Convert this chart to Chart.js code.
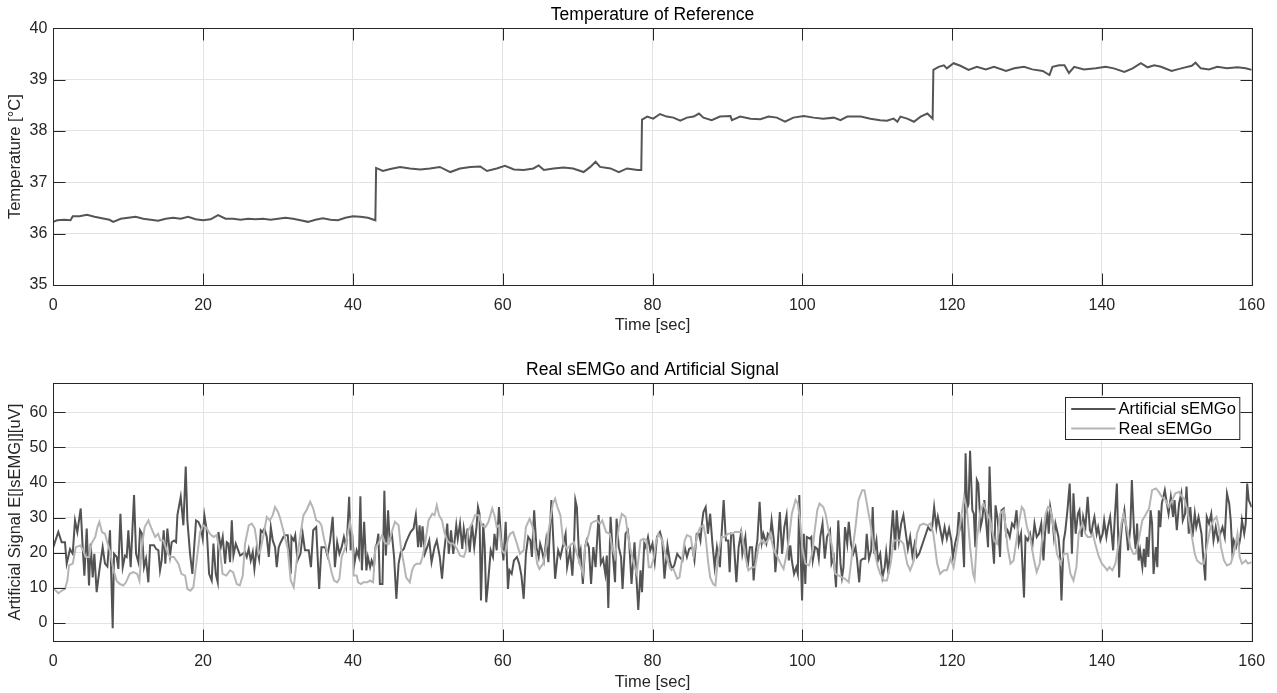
<!DOCTYPE html>
<html><head><meta charset="utf-8">
<script src="https://cdn.jsdelivr.net/npm/chart.js@4/dist/chart.umd.min.js"></script>
<style>
html,body{margin:0;padding:0;background:#fff;}
#wrap{position:relative;width:1277px;height:693px;overflow:hidden;background:#fff;}
canvas{position:absolute;left:0;}
</style></head><body>
<div id="wrap">
<canvas id="c1" width="1277" height="345" style="top:0;width:1277px;height:345px"></canvas>
<canvas id="c2" width="1277" height="348" style="top:345px;width:1277px;height:348px"></canvas>
</div>
<script>
// ---------------- data ----------------
const timeTicks = [0, 20, 40, 60, 80, 100, 120, 140, 160];
const tempTicks = [35, 36, 37, 38, 39, 40];
const emgTicks = [0, 10, 20, 30, 40, 50, 60];

// [time (s), temperature (°C)]
const temperature = [
[0,36.23],[0.5,36.26],[1.5,36.27],[2.3,36.26],[2.6,36.34],[3.5,36.34],[4.5,36.37],[5.5,36.33],[6.5,36.30],[7.5,36.27],
[8,36.23],[9,36.29],[10,36.31],[11,36.33],[12,36.29],[13,36.27],[14,36.25],[15,36.29],[16,36.31],[17,36.29],
[18,36.33],[19,36.28],[20,36.26],[21,36.28],[22,36.36],[23,36.29],[24,36.29],[25,36.27],[26,36.29],[27,36.28],
[28,36.29],[29,36.27],[30,36.29],[31,36.31],[32,36.29],[33,36.26],[34,36.23],[35,36.27],[36,36.30],[37,36.27],
[38,36.26],[39,36.31],[40,36.34],[41,36.33],[42,36.31],[43.0,36.26],[43.1,37.28],[44,37.22],[45,37.26],[46.3,37.3],
[47.6,37.27],[49.0,37.25],[50.3,37.27],[51.6,37.3],[53.0,37.2],[54.3,37.27],[55.7,37.3],[57.0,37.31],[57.9,37.22],[59.2,37.27],
[60.3,37.32],[61.5,37.25],[62.8,37.24],[64.1,37.27],[64.8,37.33],[65.5,37.24],[66.8,37.27],[68.1,37.29],[69.4,37.27],[70.8,37.2],
[71.7,37.3],[72.4,37.4],[73.0,37.3],[74.4,37.27],[75.5,37.2],[76.6,37.27],[78.0,37.24],[78.5,37.24],[78.6,38.22],[79.3,38.28],
[80.1,38.24],[81.0,38.33],[81.9,38.28],[82.8,38.26],[83.7,38.2],[84.6,38.26],[85.5,38.28],[86.2,38.34],[86.8,38.26],[87.9,38.21],
[89.0,38.28],[90.4,38.29],[90.6,38.21],[91.7,38.28],[93.1,38.24],[94.4,38.23],[95.5,38.28],[96.6,38.26],[97.7,38.18],[98.8,38.26],
[100.2,38.29],[101.5,38.26],[102.8,38.24],[104.2,38.26],[105.1,38.21],[106.0,38.28],[107.8,38.28],[109.1,38.24],[110.4,38.21],[111.3,38.2],
[112.2,38.24],[112.7,38.18],[113.1,38.28],[114.0,38.24],[114.9,38.18],[115.8,38.28],[116.7,38.34],[117.4,38.24],[117.5,39.19],[118.2,39.25],
[118.9,39.28],[119.3,39.22],[120.2,39.32],[121.1,39.27],[122.2,39.19],[123.3,39.25],[124.5,39.2],[125.6,39.25],[127.2,39.17],[128.3,39.22],
[129.6,39.25],[130.7,39.2],[132.1,39.17],[133.0,39.09],[133.4,39.25],[134.3,39.28],[135.0,39.28],[135.6,39.13],[136.3,39.25],[137.6,39.2],
[139.2,39.22],[140.5,39.25],[141.6,39.22],[143.0,39.15],[144.1,39.22],[145.2,39.32],[146.1,39.24],[147.0,39.28],[147.9,39.25],[149.3,39.17],
[150.6,39.22],[152.0,39.27],[152.5,39.33],[153.2,39.22],[154.3,39.2],[155.4,39.25],[156.7,39.22],[158.1,39.24],[159.2,39.22],[160,39.19]
];

// [time (s), artificial sEMGo (uV)]
const artificial = [
[0,21.6],[0.67,25.9],[1.12,23],[1.56,23],[1.79,16.9],[2.23,21],[2.59,19.7],[2.9,29.2],[3.21,25.9],[3.66,32.6],
[3.92,21.6],[4.15,13.5],[4.46,26.9],[4.77,10.7],[4.99,22.6],[5.26,13],[5.48,19.7],[5.79,8.8],[6.15,15],[6.59,21.6],
[6.9,16.9],[7.22,16.1],[7.57,26.4],[7.93,-1.5],[8.11,19.7],[8.46,18.8],[8.69,15.4],[8.96,31.1],[9.27,15.9],[9.58,19.2],
[9.8,18.8],[10.02,26.4],[10.33,15.9],[10.78,36.4],[11.05,19.7],[11.36,17.3],[11.58,26.4],[11.85,25.4],[12.11,15.9],[12.38,18.3],
[12.69,11.6],[12.92,22.1],[13.45,22.1],[13.72,21.1],[14.03,20.7],[14.25,15],[14.47,17.8],[14.74,26.4],[14.96,16.9],[15.23,26.9],
[15.59,19.2],[15.81,23],[16.12,23.5],[16.39,23],[16.57,30.7],[17.01,35.9],[17.37,27.8],[17.68,44.5],[17.9,29.2],[18.26,19.7],
[18.57,14],[18.84,22.6],[19.06,29.2],[19.37,28.8],[19.68,27.3],[19.95,24],[20.17,30.7],[20.49,26.4],[20.8,14],[21.15,12.1],
[21.38,22.6],[21.69,14],[21.95,11.6],[22.04,25.9],[22.36,21.6],[22.62,24.5],[22.94,16.9],[23.16,23],[23.38,22.6],[23.6,17.3],
[23.83,29.2],[24.05,19.2],[24.36,22.6],[24.62,21.1],[24.94,19.2],[25.29,19.7],[25.6,20.2],[25.83,18.8],[26.09,21.1],[26.36,17.8],
[26.63,20.2],[26.85,15.4],[27.16,21.6],[27.47,18.3],[27.7,26.4],[27.92,25.9],[28.19,26.9],[28.5,24.5],[28.77,18.8],[29.04,27.3],
[29.3,23.5],[29.61,21.6],[29.83,15.9],[30.1,21.6],[30.37,23],[30.72,24.5],[30.99,25],[31.3,25],[31.52,19.7],[31.7,14],
[31.8,24.5],[32.1,23.5],[32.3,25],[32.6,17.8],[33.0,19.7],[33.3,25.4],[33.6,20.7],[34.1,20.7],[34.4,15.9],[34.7,26.4],
[35.1,27.3],[35.5,9.7],[35.8,21.6],[36.3,21.6],[36.6,19.2],[36.96,23.5],[37.3,30.2],[37.6,15.9],[37.9,23],[38.2,19.7],
[38.5,21.6],[38.8,24.5],[39.1,21.6],[39.3,27.3],[39.5,35.9],[39.7,20.7],[39.9,25.4],[40.2,16.9],[40.5,20.7],[40.8,18.8],
[41.0,36.1],[41.2,15],[41.5,28.8],[41.8,15],[42.0,18.8],[42.3,15.9],[42.5,17.8],[42.8,15.9],[43.0,21.6],[43.2,22.6],
[43.4,25.4],[43.6,11.1],[43.95,11.1],[44.2,37.6],[44.4,19.2],[44.7,32.1],[44.9,23.5],[45.2,25.4],[45.5,18.8],[45.8,6.9],
[46.1,16.9],[46.4,20.2],[46.8,21.1],[47.1,23],[47.4,24.5],[47.7,25.9],[48.1,26.9],[48.4,30.7],[48.7,21.6],[48.9,27.8],
[49.1,21.6],[49.3,27.5],[49.6,19.7],[50.0,22.1],[50.2,23.5],[50.5,17.3],[50.9,21.6],[51.2,23.5],[51.6,18.8],[51.9,12.6],
[52.2,20.7],[52.6,28.3],[52.8,19.7],[53.1,26.4],[53.4,19.7],[53.8,27.8],[54.0,24],[54.3,28.3],[54.6,21.1],[54.8,26.9],
[55.1,22.6],[55.3,26.9],[55.6,20.2],[55.9,28.3],[56.2,21.6],[56.5,27.3],[56.7,33],[56.9,31.1],[57.1,6.4],[57.4,28.3],
[57.6,21.6],[57.8,5.9],[58.0,10.2],[58.4,20.7],[58.7,18.8],[58.9,25.4],[59.2,20.7],[59.5,33],[59.8,23.5],[60.1,17.8],
[60.4,28.8],[60.7,9.7],[60.9,15],[61.2,14],[61.5,17.8],[61.9,18.8],[62.2,16.9],[62.5,13.5],[62.8,6.9],[63.1,19.7],
[63.4,24.5],[63.7,23.5],[63.9,18.8],[64.2,32.1],[64.5,21.6],[64.8,18.8],[65.0,22.6],[65.2,21.1],[65.5,17.8],[65.8,23.5],
[66.1,17.3],[66.5,35],[66.8,21.6],[67.0,12.6],[67.4,20.7],[67.7,18.8],[68.0,21.6],[68.4,25.4],[68.6,15.9],[69.0,20.7],
[69.3,13.5],[69.5,20.7],[69.7,35],[69.9,33],[70.2,18.8],[70.4,20.7],[70.7,11.1],[71.0,21.6],[71.2,23.5],[71.5,21.6],
[71.8,11.1],[72.1,21.6],[72.4,15.9],[72.8,30.7],[73.1,16.9],[73.4,18.3],[73.7,14],[73.9,19.2],[74.1,4.3],[74.4,30.2],
[74.7,19.7],[75.0,11.6],[75.2,29.7],[75.5,21.6],[75.8,18.8],[76.0,9.7],[76.4,25.4],[76.7,26.4],[76.9,22.6],[77.2,11.1],
[77.6,23],[77.8,15],[78.1,3.7],[78.4,15],[78.6,8.8],[78.9,22.6],[79.1,21.6],[79.4,24.5],[79.7,20.7],[80.0,22.6],
[80.3,17.3],[80.6,24.5],[81.0,25.9],[81.3,23.5],[81.6,12.6],[82.0,22.1],[82.3,17.8],[82.6,15.4],[82.9,16.4],[83.3,19.7],
[83.6,18.8],[84.0,17.8],[84.3,21.6],[84.6,18.8],[84.9,21.1],[85.3,21.6],[85.6,17.8],[85.9,25.4],[86.2,25.4],[86.4,23.5],
[86.6,28.3],[86.8,31.6],[87.1,33],[87.4,25.4],[87.7,31.1],[88.0,22.6],[88.3,15.9],[88.6,21.6],[89.0,15.9],[89.2,24.5],
[89.5,35],[89.8,23.5],[90.1,23.5],[90.3,14.5],[90.5,25.4],[90.8,25],[91.2,11.6],[91.5,21.6],[91.8,25.4],[92.0,19.7],
[92.4,24.5],[92.7,15.9],[93.0,21.6],[93.3,21.6],[93.5,12.1],[93.8,20.7],[94.0,23.5],[94.3,34.5],[94.6,23],[94.8,25.4],
[95.2,22.6],[95.4,25.4],[95.7,24.5],[95.9,29.2],[96.2,23.5],[96.4,14.5],[96.7,21.6],[97.0,31.6],[97.3,19.7],[97.6,27.3],
[97.9,30.7],[98.2,17.8],[98.4,22.1],[98.6,17.8],[98.9,14],[99.2,15.9],[99.4,14],[99.6,36.4],[99.8,18.3],[99.97,6.4],
[100.2,25.4],[100.4,11.1],[100.6,24.5],[101.0,24],[101.2,24.5],[101.4,17.8],[101.7,21.6],[102.0,21.1],[102.2,18.3],[102.4,24.5],
[102.7,28.3],[103.0,18.3],[103.3,24.5],[103.7,26.4],[103.9,16.9],[104.2,18.8],[104.5,10.2],[104.8,29.2],[105.1,16.9],[105.3,13],
[105.5,15.9],[105.7,27.3],[106.0,22.6],[106.2,28.8],[106.5,22.6],[106.8,19.7],[107.1,21.6],[107.3,18.3],[107.6,11.6],[107.8,17.8],
[108.1,18.3],[108.4,18.3],[108.6,25.4],[108.9,18.3],[109.2,20.7],[109.4,33],[109.6,19.7],[109.9,23.5],[110.1,17.8],[110.4,19.7],
[110.7,13],[111.0,15.9],[111.2,20.2],[111.5,14],[111.8,23.5],[112.1,32.1],[112.4,20.7],[112.6,32.1],[112.9,23.5],[113.2,28.3],
[113.5,30.7],[113.8,25.9],[114.1,21.1],[114.4,24.5],[114.7,19.2],[115.0,22.6],[115.3,18.8],[115.6,19.7],[115.9,21.6],[116.2,23.5],
[116.5,25.4],[116.8,27.3],[117.1,26.4],[117.3,26.4],[117.6,33],[117.9,27.3],[118.1,30.2],[118.4,26.9],[118.7,23.5],[119.0,27.3],
[119.3,24],[119.6,26.9],[119.9,23.5],[120.1,18.8],[120.4,22.6],[120.7,25.4],[120.9,31.6],[121.1,27.3],[121.3,28.8],[121.6,15.9],
[121.8,48.3],[122.0,32.6],[122.2,34],[122.4,49],[122.7,32.1],[122.9,31.1],[123.1,21.6],[123.3,40.7],[123.5,39.7],[123.8,27.3],
[124.0,29.2],[124.3,35],[124.6,27.3],[124.8,21.6],[125.0,44.5],[125.3,25.4],[125.6,16.9],[125.8,33.5],[126.1,29.2],[126.4,18.8],
[126.6,32.1],[126.9,32.6],[127.2,25.4],[127.4,26.4],[127.7,24.5],[128.0,28.3],[128.3,27.3],[128.6,32.1],[128.9,22.6],[129.2,25.4],
[129.6,7.3],[129.8,24.5],[130.1,23.5],[130.4,25.4],[130.7,21.6],[131.0,28.3],[131.3,24.5],[131.6,25.4],[131.9,28.3],[132.2,17.8],
[132.4,25.4],[132.7,32.1],[132.9,25.4],[133.1,33],[133.4,29.2],[133.6,24.5],[133.8,28.3],[134.2,24.5],[134.4,19.7],[134.6,6.4],
[134.9,23.5],[135.1,25.9],[135.4,32.1],[135.7,39.7],[136.0,19.7],[136.2,36.9],[136.5,25.4],[136.8,31.1],[137.0,32.1],[137.3,24.5],
[137.5,30.2],[137.8,27.3],[138.1,35.9],[138.4,26.4],[138.6,25.4],[138.8,28.3],[139.0,30.2],[139.3,25.4],[139.5,27.3],[139.8,23.5],
[140.1,25.4],[140.3,29.2],[140.6,24.5],[140.8,27.3],[141.1,30.2],[141.3,25.4],[141.5,20.7],[141.7,29.2],[142.0,39.7],[142.3,13],
[142.5,23.5],[142.7,28.3],[143.0,32.1],[143.3,25.4],[143.5,20.7],[143.8,27.3],[144.0,40.7],[144.3,25.4],[144.5,21.1],[144.7,28.3],
[144.9,17.8],[145.1,20.7],[145.4,15.9],[145.6,21.1],[145.8,15.9],[146.0,24.5],[146.2,18.8],[146.5,32.1],[146.7,28.3],[146.9,14],
[147.2,21.6],[147.4,15.9],[147.6,32.1],[147.8,27.3],[148.0,34],[148.4,37.8],[148.6,35],[148.9,31.1],[149.2,35.9],[149.5,30.2],
[149.7,35],[150.0,26.4],[150.3,34],[150.6,36.9],[150.8,29.2],[151.1,31.1],[151.3,38.8],[151.6,25.4],[151.8,33],[152.1,24.5],
[152.4,31.1],[152.6,27.3],[152.9,30.2],[153.3,25.4],[153.5,19.7],[153.8,12.1],[154.0,30.2],[154.3,28.3],[154.6,31.1],[154.9,23.5],
[155.2,27.3],[155.5,23.5],[155.8,25.4],[156.1,27.3],[156.4,24.5],[156.7,36.9],[157.0,34],[157.2,29.2],[157.4,20.7],[157.6,23.5],
[157.9,21.6],[158.1,23.5],[158.3,22.1],[158.5,24.5],[158.7,29.2],[159.0,25.4],[159.2,28.3],[159.4,39.7],[159.6,35],[159.8,34],
[160,33]
];

// [time (s), real sEMGo (uV)]
const realSemg = [
[0,9.7],[0.36,9.2],[0.67,8.5],[1.12,9.2],[1.56,9.7],[1.88,12.1],[2.1,16.4],[2.6,16.9],[3.0,21.6],[3.6,22.1],
[4.0,20.7],[4.3,18.8],[4.8,18.8],[5.1,22.6],[5.6,24.5],[5.9,27.3],[6.15,28.8],[6.5,25.9],[6.9,25.4],[7.2,23],
[7.6,20.2],[8.0,15.4],[8.46,12],[8.9,11.1],[9.35,10.7],[9.7,11.6],[10.2,14],[10.7,14.5],[11.2,14],[11.5,12.1],
[11.8,21.6],[12.2,27.3],[12.7,29.2],[13.1,26.9],[13.6,24.5],[14.0,25.4],[14.3,23.5],[14.7,23.5],[15.2,20.2],[15.6,18.8],
[16.1,18.8],[16.7,16.9],[17.1,14],[17.6,13.5],[17.9,9.7],[18.3,9.2],[18.7,10.2],[19.2,18.8],[19.6,25.9],[20.0,27.8],
[20.5,26.9],[20.9,25.4],[21.4,24.5],[21.8,25],[22.3,19.7],[22.6,14],[23.1,13.5],[23.6,15],[24.0,14.5],[24.5,11.1],
[24.9,10.7],[25.3,13.5],[25.6,22.6],[26.1,27.8],[26.5,28.3],[26.9,26.9],[27.4,19.7],[27.6,20.2],[28.1,25.4],[28.5,30.2],
[28.9,29.2],[29.3,30.7],[29.6,33],[30.0,31.6],[30.3,29.7],[30.7,26.4],[31.3,21.1],[31.7,12.1],[32.1,10.2],[32.5,17.8],
[33.0,25.4],[33.4,30.7],[33.8,32.1],[34.3,34.5],[34.7,32.6],[35.1,29.2],[35.5,28.8],[35.8,27.8],[36.1,24.5],[36.4,21.6],
[36.7,18.8],[37.2,14],[37.5,12.1],[37.9,11.6],[38.2,12.6],[38.5,18.8],[39.0,21.6],[39.3,25.4],[39.6,28.8],[39.9,25.4],
[40.1,13.5],[40.5,13.5],[40.7,11.6],[41.1,11.1],[41.4,11.6],[41.9,11.6],[42.3,12.1],[42.7,11.6],[43.0,21.6],[43.4,22.6],
[43.9,25],[44.3,22.6],[44.8,22.6],[45.2,25.9],[45.6,28.8],[46.1,27.8],[46.4,21.6],[46.8,16.9],[47.1,13],[47.6,11.6],
[47.9,15],[48.2,16.4],[48.5,16.9],[49.0,16.9],[49.3,18.8],[49.7,23.5],[50.1,29.2],[50.6,31.1],[50.9,30.7],[51.2,33.5],
[51.5,30.7],[51.9,29.2],[52.2,25.9],[52.6,23.5],[53.0,22.6],[53.4,22.6],[53.9,21.1],[54.3,19.2],[54.8,18.8],[55.1,20.7],
[55.4,26.4],[55.9,28.3],[56.3,30.7],[56.8,30.7],[57.2,27.8],[57.7,27.3],[58.1,28.8],[58.6,32.6],[58.9,30.7],[59.2,27.3],
[59.5,27.8],[59.9,20.7],[60.3,19.7],[60.7,24],[61.0,25.4],[61.4,25.9],[61.9,22.6],[62.3,19.7],[62.8,20.7],[63.1,27.3],
[63.6,29.7],[64.0,27.3],[64.3,21.6],[64.6,16.9],[64.9,15.4],[65.4,16.9],[65.8,21.6],[66.2,27.3],[66.7,34],[67.0,35.4],
[67.3,33],[67.7,30.7],[68.1,22.6],[68.6,21.1],[69.0,22.1],[69.5,23],[69.9,19.7],[70.3,16.9],[70.7,14],[71.0,21.6],
[71.5,25.4],[71.8,28.3],[72.1,28.8],[72.6,29.2],[73.0,28.3],[73.3,29.2],[73.8,25.9],[74.3,25.4],[74.6,21.6],[75.0,18.8],
[75.5,27.3],[75.9,31.1],[76.4,30.2],[76.7,25.4],[77.0,21.6],[77.5,16.9],[77.9,14],[78.4,23.5],[78.8,24],[79.2,23.5],
[79.5,15.9],[79.8,15.9],[80.2,18.8],[80.5,23.5],[80.8,25.4],[81.3,23.5],[81.6,20.7],[82.0,17.8],[82.4,15.4],[82.8,15.4],
[83.3,12.6],[83.6,13],[84.0,18.8],[84.3,23.5],[84.6,25],[85.1,24.5],[85.5,19.2],[86.0,25.4],[86.4,27.3],[86.8,27.8],
[87.1,24.5],[87.4,17.8],[87.7,13],[88.1,11.1],[88.4,10.7],[88.8,19.7],[89.2,24.5],[89.6,24.5],[90.1,25.4],[90.6,25.4],
[91.0,25.9],[91.5,25.9],[91.9,25.9],[92.4,18.8],[92.8,15],[93.3,15.9],[93.7,15.9],[94.2,22.1],[94.6,23.5],[95.0,22.6],
[95.4,23.5],[95.7,25.4],[96.2,20.7],[96.7,18.8],[97.1,16.9],[97.5,15.4],[98.0,20.7],[98.3,25.4],[98.6,31.1],[99.1,35],
[99.4,34],[99.7,29.2],[100.0,21.6],[100.4,16.9],[100.9,16.4],[101.3,19.7],[101.6,25.4],[102.0,32.1],[102.3,34],[102.8,33],
[103.1,31.1],[103.5,26.4],[104.0,21.6],[104.4,14],[104.9,13.5],[105.3,13],[105.7,12.6],[106.2,11.6],[106.6,18.8],[107.1,27.3],
[107.5,35],[108.0,37.8],[108.3,37.8],[108.7,33],[109.1,28.3],[109.4,23.5],[109.7,19.7],[110.1,15.9],[110.4,14],[110.9,12.1],
[111.3,12.1],[111.8,16.9],[112.2,23.5],[112.6,23.5],[113.1,23.5],[113.5,22.6],[114.0,16.9],[114.4,15],[114.9,17.8],[115.3,25.4],
[115.7,27.8],[116.2,28.3],[116.7,27.8],[117.1,28.3],[117.5,25.4],[118.0,16.9],[118.4,14],[118.9,15],[119.3,15],[119.8,18.3],
[120.2,15.9],[120.7,22.6],[121.1,28.3],[121.6,35.9],[122.0,32.1],[122.4,21.6],[122.8,14],[123.0,12.6],[123.3,23.5],[123.8,32.1],
[124.2,34],[124.7,31.1],[125.1,29.2],[125.6,23.5],[126.0,22.6],[126.4,31.1],[126.9,32.1],[127.4,21.6],[127.8,16.9],[128.2,17.8],
[128.6,23.5],[128.9,28.3],[129.3,33],[129.6,32.1],[130.0,27.3],[130.5,23.5],[130.9,18.3],[131.3,14.5],[131.7,16.9],[132.0,23.5],
[132.5,31.1],[132.8,33],[133.1,32.6],[133.6,26.4],[134.0,19.7],[134.5,16.9],[134.9,19.7],[135.4,19.7],[135.8,14],[136.2,12.1],
[136.6,15.9],[136.9,25.4],[137.4,28.3],[137.8,25.4],[138.1,24.5],[138.5,24.5],[138.8,25.4],[139.1,22.6],[139.6,18.8],[140.0,16.9],
[140.4,15.9],[140.7,15],[141.0,15.9],[141.4,15],[141.8,16.9],[142.3,23.5],[142.6,28.3],[142.9,31.1],[143.4,26.4],[143.8,21.6],
[144.2,19.7],[144.5,19.7],[144.9,23.5],[145.4,29.2],[145.8,30.7],[146.3,32.6],[146.7,37.8],[147.2,38.3],[147.6,37.3],[148.0,35.9],
[148.5,35],[148.9,33],[149.4,35],[149.8,36.9],[150.3,37.3],[150.7,35.9],[151.0,35.4],[151.4,32.1],[151.8,27.3],[152.1,23.5],
[152.4,19.7],[152.7,17.8],[153.2,16.9],[153.6,16.9],[154.0,21.6],[154.5,27.3],[154.9,29.2],[155.3,30.2],[155.6,27.3],[155.9,21.6],
[156.3,17.8],[156.7,16.4],[157.2,16.9],[157.6,19.7],[158.1,25.4],[158.4,18.8],[158.7,16.9],[159.2,17.8],[159.5,16.9],[160,17.3]
];

// ---------------- style ----------------
const FONT = "'Liberation Sans', Arial, Helvetica, sans-serif";
const AXIS_COLOR = '#262626';
const GRID_COLOR = '#e3e3e3';

const frame = {
  id: 'matlabFrame',
  afterDatasetsDraw(chart, args, opts) {
    const ctx = chart.ctx;
    const ca = chart.chartArea;
    const xs = chart.scales.x, ys = chart.scales.y;
    const L = Math.round(ca.left) + 0.5, R = Math.round(ca.right) + 0.5;
    const T = Math.round(ca.top) + 0.5, B = Math.round(ca.bottom) + 0.5;
    ctx.save();
    ctx.strokeStyle = AXIS_COLOR;
    ctx.lineWidth = 1;
    ctx.beginPath();
    const tl = opts.tickLen;
    opts.xTicks.forEach(v => {
      const px = Math.round(xs.getPixelForValue(v)) + 0.5;
      ctx.moveTo(px, B); ctx.lineTo(px, B - tl);
      ctx.moveTo(px, T); ctx.lineTo(px, T + tl);
    });
    opts.yTicks.forEach(v => {
      const py = Math.round(ys.getPixelForValue(v)) + 0.5;
      ctx.moveTo(L, py); ctx.lineTo(L + tl, py);
      ctx.moveTo(R, py); ctx.lineTo(R - tl, py);
    });
    ctx.stroke();
    ctx.strokeRect(L, T, R - L, B - T);
    // title
    ctx.fillStyle = '#000';
    ctx.font = "17.5px " + FONT;
    ctx.textAlign = 'center';
    ctx.textBaseline = 'middle';
    ctx.fillText(opts.title, (ca.left + ca.right) / 2, ca.top - 13.5);
    // legend
    if (opts.legend) {
      const bw = 174.3, bh = 42;
      const bx = Math.round(ca.right - 186.7) + 0.5, by = Math.round(ca.top + 13.4) + 0.5;
      ctx.fillStyle = '#fff';
      ctx.fillRect(bx, by, bw, bh);
      ctx.strokeStyle = AXIS_COLOR;
      ctx.lineWidth = 1;
      ctx.strokeRect(bx, by, bw, bh);
      const rows = [by + 11.6, by + 31];
      chart.data.datasets.forEach((ds, i) => {
        ctx.strokeStyle = ds.borderColor;
        ctx.lineWidth = ds.borderWidth;
        ctx.beginPath();
        ctx.moveTo(bx + 5.7, rows[i]);
        ctx.lineTo(bx + 50, rows[i]);
        ctx.stroke();
        ctx.fillStyle = '#000';
        ctx.font = "16.5px " + FONT;
        ctx.textAlign = 'left';
        ctx.textBaseline = 'middle';
        ctx.fillText(ds.label, bx + 53, rows[i] + 0.5);
      });
    }
    ctx.restore();
  }
};

function makeScales(yMin, yMax, yTickVals, yTitle, xAxisH, xTitlePad) {
  return {
    x: {
      type: 'linear', min: 0, max: 160,
      afterBuildTicks: s => { s.ticks = timeTicks.map(v => ({ value: v })); },
      afterFit: s => { s.height = xAxisH; },
      ticks: { font: { family: FONT, size: 16 }, color: AXIS_COLOR, padding: 11, maxRotation: 0, autoSkip: false },
      grid: { color: GRID_COLOR, lineWidth: 1, drawTicks: false },
      border: { display: false },
      title: { display: true, text: 'Time [sec]', font: { family: FONT, size: 16.5 }, color: AXIS_COLOR, padding: { top: 0, bottom: xTitlePad } }
    },
    y: {
      type: 'linear', min: yMin, max: yMax,
      afterBuildTicks: s => { s.ticks = yTickVals.map(v => ({ value: v })); },
      afterFit: s => { s.width = 53.3; },
      ticks: { font: { family: FONT, size: 16 }, color: AXIS_COLOR, padding: 6, autoSkip: false },
      grid: { color: GRID_COLOR, lineWidth: 1, drawTicks: false },
      border: { display: false },
      title: { display: true, text: yTitle, font: { family: FONT, size: 16.5 }, color: AXIS_COLOR, padding: { top: 6, bottom: 0 } }
    }
  };
}

const toXY = arr => arr.map(([x, y]) => ({ x, y }));

new Chart(document.getElementById('c1'), {
  type: 'line',
  data: {
    datasets: [{
      label: 'Temperature',
      data: toXY(temperature),
      borderColor: '#555555', borderWidth: 2, pointRadius: 0, tension: 0, fill: false
    }]
  },
  options: {
    responsive: false, animation: false, devicePixelRatio: 1,
    layout: { padding: { top: 28.3, right: 25.3, left: 0, bottom: 0 } },
    scales: makeScales(35, 40, tempTicks, 'Temperature [°C]', 60, 10),
    plugins: {
      legend: { display: false }, tooltip: { enabled: false },
      matlabFrame: { title: 'Temperature of Reference', tickLen: 12, xTicks: timeTicks, yTicks: tempTicks, legend: false }
    }
  },
  plugins: [frame]
});

new Chart(document.getElementById('c2'), {
  type: 'line',
  data: {
    datasets: [
      { label: 'Artificial sEMGo', data: toXY(artificial), borderColor: '#535353', borderWidth: 2, pointRadius: 0, tension: 0, fill: false, order: 1 },
      { label: 'Real sEMGo', data: toXY(realSemg), borderColor: '#b5b5b5', borderWidth: 2, pointRadius: 0, tension: 0, fill: false, order: 0 }
    ]
  },
  options: {
    responsive: false, animation: false, devicePixelRatio: 1,
    layout: { padding: { top: 38.3, right: 25.3, left: 0, bottom: 0 } },
    scales: makeScales(-5.1, 68.2, emgTicks, 'Artificial Signal E[|sEMG|][uV]', 52, 1),
    plugins: {
      legend: { display: false }, tooltip: { enabled: false },
      matlabFrame: { title: 'Real sEMGo and Artificial Signal', tickLen: 12, xTicks: timeTicks, yTicks: emgTicks, legend: true }
    }
  },
  plugins: [frame]
});
</script>
</body></html>
